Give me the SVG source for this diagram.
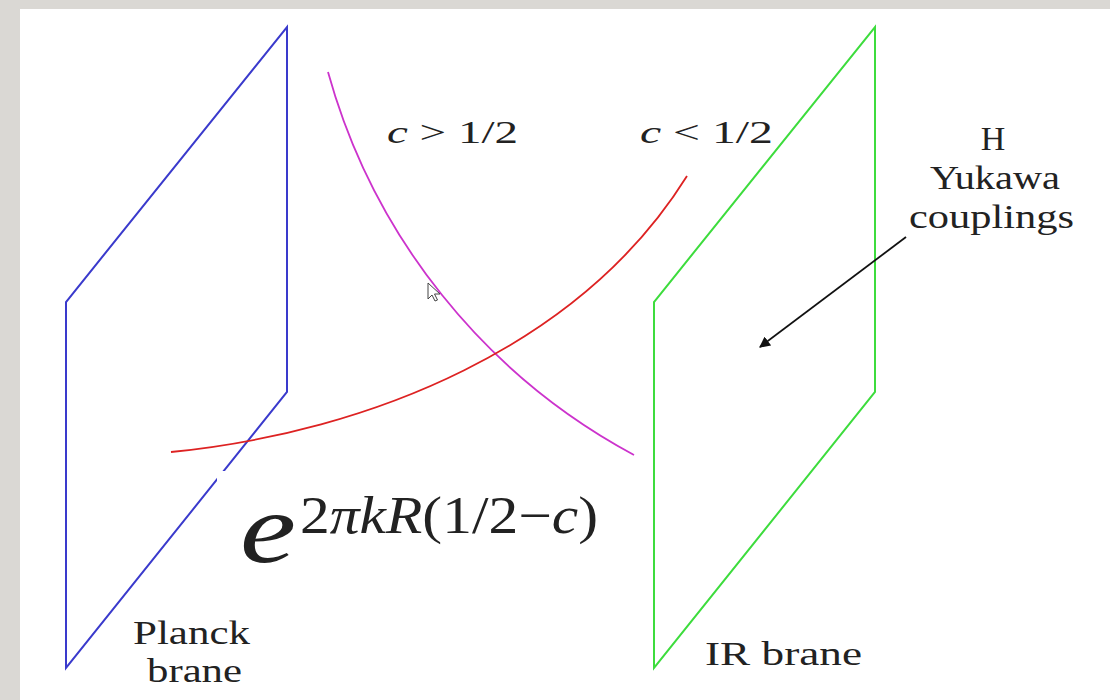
<svg xmlns="http://www.w3.org/2000/svg" width="1110" height="700" viewBox="0 0 1110 700">
<defs>
<style>
text{font-family:'Liberation Serif',serif;fill:#222;}
.it{font-style:italic;}
.brane{fill:none;stroke-width:2;stroke-linejoin:miter;}
.curve{fill:none;stroke-width:1.8;}
</style>
<marker id="ah" viewBox="0 0 10 10" refX="9" refY="5" markerWidth="11" markerHeight="11" markerUnits="userSpaceOnUse" orient="auto">
<path d="M0,0 L10,5 L0,10 z" fill="#111"/>
</marker>
</defs>
<rect x="0" y="0" width="1110" height="700" fill="#dad8d4"/>
<rect x="20" y="9" width="1090" height="691" fill="#ffffff"/>

<g id="planck-brane">
<path class="brane" stroke="#3a3acc" d="M287 27 L287 392 L66 668 L66 302 Z"/>
<text font-family="Liberation Serif" font-size="34" x="133" y="644" textLength="117" lengthAdjust="spacingAndGlyphs">Planck</text>
<text font-family="Liberation Serif" font-size="34" x="147" y="682" textLength="95" lengthAdjust="spacingAndGlyphs">brane</text>
</g>

<g id="ir-brane">
<path class="brane" stroke="#3ddc3d" d="M875 27 L875 392 L654 668 L654 302 Z"/>
<text font-family="Liberation Serif" font-size="34" x="705" y="665" textLength="157" lengthAdjust="spacingAndGlyphs">IR brane</text>
</g>

<g id="connectors">
<path class="curve" stroke="#cc33cc" d="M328 72 A624 624 0 0 0 634 455"/>
<path class="curve" stroke="#dd2222" d="M171 452 C371 432 581 346 687 176"/>
<line x1="906" y1="237" x2="760" y2="347" stroke="#111" stroke-width="1.8" marker-end="url(#ah)"/>
</g>

<g id="label-c-gt">
<text font-family="Liberation Serif" font-size="32" x="387" y="143" textLength="131" lengthAdjust="spacingAndGlyphs"><tspan class="it">c</tspan> &gt; 1/2</text>
</g>
<g id="label-c-lt">
<text font-family="Liberation Serif" font-size="32" x="640" y="143" textLength="133" lengthAdjust="spacingAndGlyphs"><tspan class="it">c</tspan> &lt; 1/2</text>
</g>

<g id="yukawa-label">
<text font-family="Liberation Serif" font-size="34" x="993" y="150" text-anchor="middle">H</text>
<text font-family="Liberation Serif" font-size="34" x="930" y="189" textLength="130" lengthAdjust="spacingAndGlyphs">Yukawa</text>
<text font-family="Liberation Serif" font-size="34" x="909" y="228" textLength="165" lengthAdjust="spacingAndGlyphs">couplings</text>
</g>

<g id="formula">
<rect x="217" y="471" width="400" height="110" fill="#ffffff"/>
<text font-family="Liberation Serif" font-style="italic" font-size="100" x="240" y="562" textLength="56" lengthAdjust="spacingAndGlyphs" fill="#111">e</text>
<text font-family="Liberation Serif" font-size="52" x="300" y="533" textLength="298" lengthAdjust="spacingAndGlyphs" fill="#111">2<tspan class="it">πkR</tspan>(1/2−<tspan class="it">c</tspan>)</text>
</g>

<g id="cursor">
<path d="M428 283 L428 299 L432 295 L435 301 L437.5 300 L434.5 294 L440 294 Z" fill="#fff" stroke="#444" stroke-width="1"/>
</g>
</svg>
